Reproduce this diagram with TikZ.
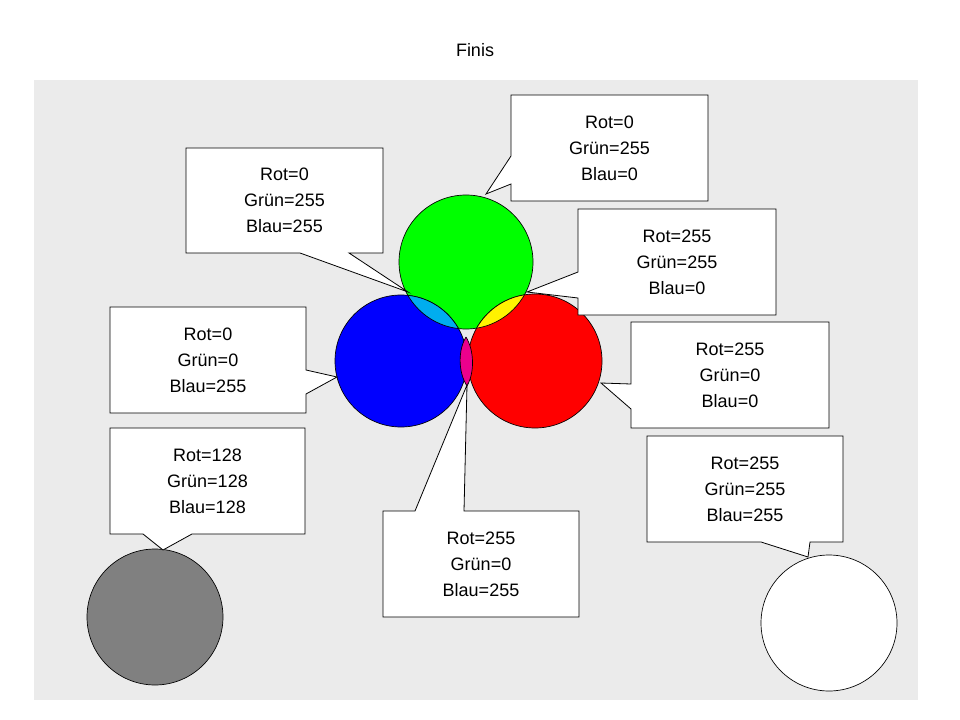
\documentclass[tikz,border=0pt]{standalone}
\usepackage{fontspec}
\setmainfont{Liberation Sans}
\begin{document}
\begin{tikzpicture}[x=0.75pt,y=-0.75pt,
  call/.style={draw=black,fill=white,line width=0.6pt},
  txt/.style={align=center,font=\fontsize{13.5}{19.5}\selectfont},
  circ/.style={draw=black,line width=0.5pt}]
\useasboundingbox (0,0) rectangle (960,720);
\fill[white] (0,0) rectangle (960,720);
\fill[black!8] (34,80) rectangle (918,700);
\node[font=\fontsize{13.5}{16}\selectfont] (title) at (475,50) {Finis};
% circles
\fill[green!100,circ] (466,262) circle (67);
\fill[blue,circ] (401,361) circle (66);
\fill[red,circ] (535,361) circle (67);
\begin{scope}
\clip (466,262) circle (67);
\fill[cyan,circ] (401,361) circle (66);
\fill[yellow,circ] (535,361) circle (67);
\end{scope}
\begin{scope}
\clip (401,361) circle (66);
\draw[circ] (466,262) circle (67);
\end{scope}
\begin{scope}
\clip (535,361) circle (67);
\draw[circ] (466,262) circle (67);
\end{scope}
\fill[magenta,circ] (466,337) .. controls (474,350) and (475,372) .. (467,386) .. controls (458,372) and (458,350) .. (466,337);
\fill[black!50,circ] (155,617) circle (68);
\fill[white,circ] (829,623) circle (68);
% tips
\coordinate (tG) at (486,194);
\coordinate (tC) at (408,292);
\coordinate (tY) at (527,292);
\coordinate (tR) at (601,383);
\coordinate (tB) at (337,377);
\coordinate (tM) at (467,385);
\coordinate (tW) at (808,557);
\coordinate (tK) at (163,550);
% callouts
\draw[call] (511,95) -- (708,95) -- (708,201) -- (511,201) -- (511,184) -- (tG) -- (511,156) -- cycle;
\node[txt] (cG) at (609.5,148) {Rot=0\\Grün=255\\Blau=0};
\draw[call] (186,148) -- (383,148) -- (383,253) -- (349,253) -- (tC) -- (300,253) -- (186,253) -- cycle;
\node[txt] (cC) at (284.5,200.5) {Rot=0\\Grün=255\\Blau=255};
\draw[call] (578,209) -- (776,209) -- (776,315) -- (578,315) -- (578,298) -- (tY) -- (578,272) -- cycle;
\node[txt] (cY) at (677,262) {Rot=255\\Grün=255\\Blau=0};
\draw[call] (631,322) -- (829,322) -- (829,428) -- (631,428) -- (631,409) -- (tR) -- (631,384) -- cycle;
\node[txt] (cR) at (730,375) {Rot=255\\Grün=0\\Blau=0};
\draw[call] (110,307) -- (306,307) -- (306,370) -- (tB) -- (306,394) -- (306,413) -- (110,413) -- cycle;
\node[txt] (cB) at (208,360) {Rot=0\\Grün=0\\Blau=255};
\draw[call] (383,511) -- (415,511) -- (tM) -- (464,511) -- (579,511) -- (579,617) -- (383,617) -- cycle;
\node[txt] (cM) at (481,564) {Rot=255\\Grün=0\\Blau=255};
\draw[call] (647,436) -- (843,436) -- (843,542) -- (810,542) -- (tW) -- (761,542) -- (647,542) -- cycle;
\node[txt] (cW) at (745,489) {Rot=255\\Grün=255\\Blau=255};
\draw[call] (110,428) -- (305,428) -- (305,534) -- (192,534) -- (tK) -- (143,534) -- (110,534) -- cycle;
\node[txt] (cK) at (207.5,481) {Rot=128\\Grün=128\\Blau=128};
\end{tikzpicture}
\end{document}
